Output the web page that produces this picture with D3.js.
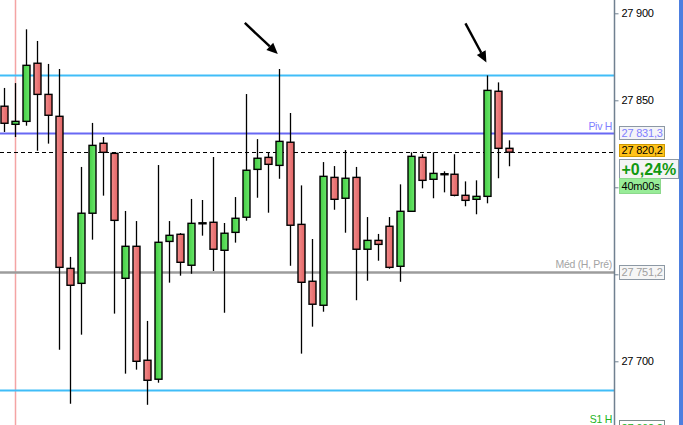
<!DOCTYPE html>
<html>
<head>
<meta charset="utf-8">
<title>Candles</title>
<style>
  body { margin: 0; background: #fff; }
  svg { display: block; font-family: "Liberation Sans", Arial, sans-serif; }
</style>
</head>
<body>
<svg id="chart"></svg>
<script src="https://d3js.org/d3.v7.min.js"></script>
<script>
// candle values (one entry per bar, left to right)
const opens  = [27846.6, 27836.2, 27837.9, 27871.3, 27853.4, 27840.8, 27753.4, 27744.8, 27785.1, 27825.3,
                27819.5, 27747.7, 27766.1, 27700.6, 27689.7, 27768.9, 27773.0, 27755.2, 27779.3, 27779.9,
                27763.8, 27774.1, 27782.8, 27810.3, 27817.2, 27812.6, 27825.9, 27778.7, 27746.0, 27732.2,
                27805.7, 27793.7, 27805.7, 27764.4, 27769.5, 27777.6, 27754.6, 27786.2, 27817.2, 27804.6,
                27807.6, 27807.5, 27795.4, 27793.1, 27794.8, 27855.2, 27822.4];
const highs  = [27857.1, 27859.9, 27890.8, 27884.1, 27870.9, 27868.0, 27760.0, 27811.7, 27837.0, 27828.9,
                27820.1, 27786.4, 27780.6, 27723.2, 27812.8, 27780.6, 27773.7, 27793.3, 27792.7, 27817.4,
                27779.5, 27794.4, 27853.6, 27827.7, 27819.9, 27868.0, 27842.7, 27801.1, 27770.3, 27814.5,
                27812.2, 27821.4, 27811.7, 27782.9, 27773.2, 27782.9, 27801.7, 27820.1, 27819.0, 27820.1,
                27809.2, 27819.0, 27803.4, 27804.0, 27864.3, 27860.3, 27827.0];
const lows   = [27831.8, 27828.9, 27835.4, 27821.0, 27825.1, 27706.7, 27675.6, 27715.3, 27769.9, 27795.2,
                27727.4, 27692.9, 27695.2, 27675.0, 27687.7, 27745.2, 27749.2, 27750.3, 27772.2, 27751.9,
                27727.9, 27768.2, 27780.8, 27794.0, 27785.4, 27804.9, 27754.9, 27704.4, 27719.9, 27728.5,
                27787.1, 27773.9, 27735.1, 27746.3, 27757.8, 27753.2, 27745.7, 27785.8, 27799.4, 27793.7,
                27797.1, 27794.8, 27789.1, 27784.5, 27790.8, 27805.2, 27812.1];
const closes = [27836.8, 27837.9, 27870.1, 27853.4, 27841.4, 27754.0, 27743.7, 27785.1, 27824.1, 27820.1,
                27781.0, 27766.1, 27700.0, 27689.1, 27768.4, 27772.4, 27756.9, 27779.3, 27779.6, 27764.4,
                27773.6, 27782.2, 27809.8, 27816.7, 27813.2, 27826.4, 27778.2, 27745.4, 27732.8, 27806.3,
                27793.1, 27805.2, 27764.4, 27769.5, 27767.2, 27754.0, 27786.2, 27817.8, 27804.0, 27808.0,
                27807.8, 27795.4, 27792.5, 27794.8, 27855.7, 27822.4, 27820.2];

// price axis: tick marks, and the ticks that keep a visible label
const tickValues  = [27700, 27750, 27800, 27850, 27900];
const tickLabeled = [27700, 27850, 27900];

// horizontal levels
const bandTop = 27864.7, bandBottom = 27683.3;
const pivH = 27831.3, lastPrice = 27820.2, medLevel = 27751.2, s1 = 27662.2;
const changeText = "+0,24%", timerText = "40m00s";

// arrows point at these bars
const arrowBars = [25, 44];

const W = 683, H = 425, axisX = 614.5;

const svg = d3.select('#chart').attr('width', W).attr('height', H);

const x = d3.scaleLinear().domain([0, opens.length - 1]).range([4.3, 509.4]);
const y = d3.scaleLinear().domain([27700, 27900]).range([361.3, 13.3]);

const fmt = v => d3.format(",.1f")(v).replace(",", " ").replace(".", ",");

const defs = svg.append('defs');
const gR = defs.append('linearGradient').attr('id', 'gr');
gR.append('stop').attr('offset', '0%').attr('stop-color', '#f28c8c');
gR.append('stop').attr('offset', '100%').attr('stop-color', '#e26464');
const gG = defs.append('linearGradient').attr('id', 'gg');
gG.append('stop').attr('offset', '0%').attr('stop-color', '#45cc45');
gG.append('stop').attr('offset', '100%').attr('stop-color', '#6ae86a');

// vertical pink marker
svg.append('line')
  .attr('x1', 15.5).attr('x2', 15.5).attr('y1', 0).attr('y2', H)
  .attr('stroke', '#f4a4a4').attr('stroke-width', 1.5);

// level lines
function level(v, color, w, dash) {
  const yy = Math.round(y(v)) + 0.5;
  svg.append('line')
    .attr('x1', 0).attr('x2', axisX).attr('y1', yy).attr('y2', yy)
    .attr('stroke', color).attr('stroke-width', w)
    .attr('stroke-dasharray', dash || null);
}
level(bandTop, '#40bdf8', 2);
level(bandBottom, '#40bdf8', 2);
level(pivH, '#6868f4', 2);
level(medLevel, '#9c9c9c', 2.5);
level(lastPrice, '#000', 1, '4,3');

// candles
const idx = d3.range(opens.length);
const c = svg.append('g').selectAll('g').data(idx).enter().append('g');

c.append('line')
  .attr('x1', i => Math.round(x(i)) + 0.5).attr('x2', i => Math.round(x(i)) + 0.5)
  .attr('y1', i => y(highs[i])).attr('y2', i => y(lows[i]))
  .attr('stroke', '#000').attr('stroke-width', 1.3);

c.append('rect')
  .attr('x', i => Math.round(x(i)) - 3)
  .attr('width', 7)
  .attr('y', i => y(Math.max(opens[i], closes[i])))
  .attr('height', i => Math.max(1, Math.abs(y(opens[i]) - y(closes[i]))))
  .attr('fill', i => closes[i] >= opens[i] ? 'url(#gg)' : 'url(#gr)')
  .attr('stroke', '#000').attr('stroke-width', 1.4);

// arrows
arrowBars.forEach((b, k) => {
  const tx = x(b) - 1, ty = y(highs[b]) - (k === 0 ? 15 : 13);
  const dx = k === 0 ? -33 : -21, dy = k === 0 ? -31 : -39;
  const len = Math.hypot(dx, dy), ux = dx / len, uy = dy / len;
  const bx = tx + ux * 11, by = ty + uy * 11;
  svg.append('line')
    .attr('x1', tx + dx).attr('y1', ty + dy).attr('x2', bx).attr('y2', by)
    .attr('stroke', '#000').attr('stroke-width', 2.4);
  svg.append('path')
    .attr('d', `M${tx},${ty} L${bx - uy * 5},${by + ux * 5} L${bx + uy * 5},${by - ux * 5} Z`)
    .attr('fill', '#000');
});

// level labels on the chart
function tag(yy, color, txt) {
  svg.append('text').attr('x', 612).attr('y', yy).attr('text-anchor', 'end')
    .attr('font-size', 10.5).attr('letter-spacing', -0.3).attr('fill', color).text(txt);
}
tag(129.5, '#8080ff', 'Piv H');
tag(268, '#a4a4a4', 'Méd (H, Pré)');
tag(423, '#22b422', 'S1 H');

// price axis
const axis = svg.append('g').attr('transform', `translate(${axisX},0)`)
  .call(d3.axisRight(y).tickValues(tickValues).tickSize(4).tickPadding(3)
    .tickFormat(v => tickLabeled.includes(v) ? d3.format(",")(v).replace(",", " ") : ''));
axis.select('.domain').remove();
axis.selectAll('line').attr('stroke', '#708090');
axis.selectAll('text').attr('font-size', 11).attr('letter-spacing', -0.25).attr('fill', '#000')
  .attr('font-family', '"Liberation Sans", Arial, sans-serif');
svg.append('line').attr('x1', axisX).attr('x2', axisX).attr('y1', 0).attr('y2', H)
  .attr('stroke', '#708090').attr('stroke-width', 1.5);

// label boxes on the axis
function box(yTop, h, w, fill, stroke, txt, color, size, bold) {
  svg.append('rect').attr('x', 619.5).attr('y', yTop).attr('width', w).attr('height', h)
    .attr('fill', fill).attr('stroke', stroke).attr('stroke-width', 1);
  svg.append('text').attr('x', 621.5).attr('y', yTop + h / 2).attr('dy', '0.36em')
    .attr('font-size', size).attr('font-weight', bold ? 'bold' : null)
    .attr('letter-spacing', bold ? 0 : -0.2)
    .attr('fill', color).text(txt);
}
box(Math.round(y(pivH)) - 6.5, 13, 45, '#f4f4f8', '#8c98a4', fmt(pivH), '#8080ff', 11);
box(Math.round(y(lastPrice)) - 7.5, 12, 45, '#ffc21a', '#d09a00', fmt(lastPrice), '#000', 11);
box(Math.round(y(lastPrice)) + 7.5, 19, 59, '#f4f4f4', '#8c98a4', changeText, '#119911', 16, true);
box(Math.round(y(lastPrice)) + 26.5, 15, 41, '#98ec98', '#8cd88c', timerText, '#000', 11);
box(Math.round(y(medLevel)) - 6.5, 14, 45, '#f6f6f6', '#8c98a4', fmt(medLevel), '#a0a0a0', 11);
box(420.5, 16, 45, '#fff', '#7c8c8c', fmt(s1), '#22b422', 11);

// right edge bar
svg.append('rect').attr('x', 679).attr('y', 0).attr('width', 4).attr('height', H)
  .attr('fill', '#4d7fe0');
</script>
</body>
</html>
